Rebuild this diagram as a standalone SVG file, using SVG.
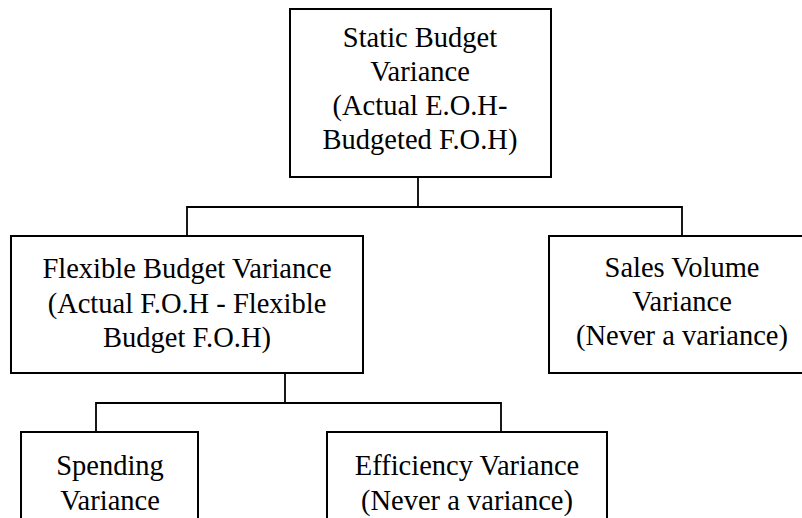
<svg xmlns="http://www.w3.org/2000/svg" width="802" height="518" viewBox="0 0 802 518">
<style>
.box{fill:#fff;stroke:#000;stroke-width:2}
.con{fill:none;stroke:#000;stroke-width:1.8}
text{font-family:"Liberation Serif","Times New Roman",serif;font-size:28.5px;fill:#000;text-anchor:middle}
</style>
<rect width="802" height="518" fill="#fff"/>
<g id="connectors">
<path class="con" d="M418 177V207M187 236V207H682V236"/>
<path class="con" d="M285 373V403M96 432V403H501V432"/>
</g>
<g id="static">
<rect class="box" x="290" y="9" width="261" height="168"/>
<text x="420" y="47">Static Budget</text>
<text x="420" y="81">Variance</text>
<text x="420" y="115">(Actual E.O.H-</text>
<text x="420" y="149">Budgeted F.O.H)</text>
</g>
<g id="flexible">
<rect class="box" x="11" y="236" width="352" height="137"/>
<text x="187" y="278">Flexible Budget Variance</text>
<text x="187" y="313">(Actual F.O.H - Flexible</text>
<text x="187" y="347">Budget F.O.H)</text>
</g>
<g id="sales">
<rect class="box" x="549" y="236" width="266" height="137"/>
<text x="682" y="277">Sales Volume</text>
<text x="682" y="311">Variance</text>
<text x="682" y="345">(Never a variance)</text>
</g>
<g id="spending">
<rect class="box" x="21" y="432" width="177" height="100"/>
<text x="110" y="475">Spending</text>
<text x="110" y="510">Variance</text>
</g>
<g id="efficiency">
<rect class="box" x="327" y="432" width="280" height="100"/>
<text x="467" y="475">Efficiency Variance</text>
<text x="467" y="510">(Never a variance)</text>
</g>
</svg>
